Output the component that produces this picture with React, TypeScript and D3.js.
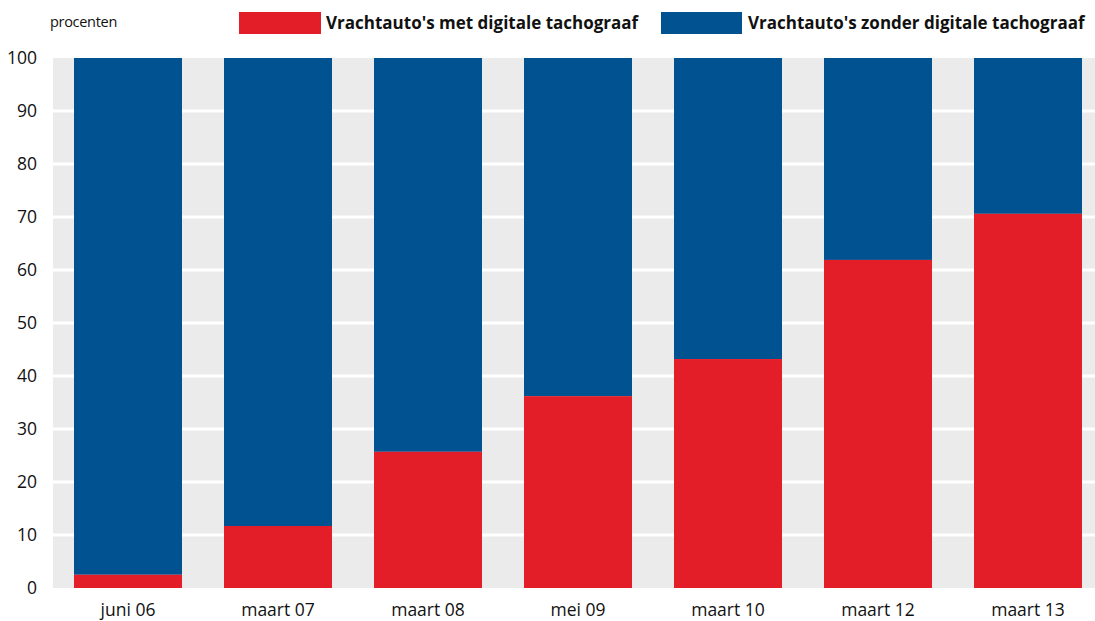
import React from "react";
import * as d3 from "d3";

const categories = ["juni 06", "maart 07", "maart 08", "mei 09", "maart 10", "maart 12", "maart 13"];
const metDigitale = [2.5, 11.7, 25.7, 36.2, 43.2, 61.9, 70.6];
const zonderDigitale = [97.5, 88.3, 74.3, 63.8, 56.8, 38.1, 29.4];
const yTicks = [0, 10, 20, 30, 40, 50, 60, 70, 80, 90, 100];
const seriesNames = ["Vrachtauto's met digitale tachograaf", "Vrachtauto's zonder digitale tachograaf"];
const colors = ["#E31E29", "#005291"];

const W = 1095;
const H = 621;
const plot = { left: 53, right: 1103, top: 58, bottom: 588 };
const FONT = "'Open Sans', 'Noto Sans', sans-serif";

export default function App() {
  const x = d3.scaleBand<string>().domain(categories).range([plot.left, plot.right]).paddingInner(0.28).paddingOuter(0.14);
  const y = d3.scaleLinear().domain([0, 100]).range([plot.bottom, plot.top]);

  return (
    <svg width={W} height={H} style={{ position: "absolute", left: 0, top: 0, background: "#fff" }} fontFamily={FONT}>
      <rect x={plot.left} y={plot.top} width={W - plot.left} height={plot.bottom - plot.top} fill="#EBEBEB" />
      {yTicks.slice(1, -1).map((t) => (
        <line key={t} x1={plot.left} x2={W} y1={y(t)} y2={y(t)} stroke="#fff" strokeWidth={3} />
      ))}
      {yTicks.map((t) => (
        <text key={t} x={37} y={y(t)} dy="0.36em" textAnchor="end" fontSize={17.5} fill="#111">
          {t}
        </text>
      ))}
      {categories.map((c, i) => {
        const m = metDigitale[i];
        const top = m + zonderDigitale[i];
        return (
          <g key={c}>
            <rect x={x(c)} width={x.bandwidth()} y={y(top)} height={y(m) - y(top)} fill={colors[1]} />
            <rect x={x(c)} width={x.bandwidth()} y={y(m)} height={y(0) - y(m)} fill={colors[0]} />
            <text x={(x(c) as number) + x.bandwidth() / 2} y={616} textAnchor="middle" fontSize={17.5} fill="#111">
              {c}
            </text>
          </g>
        );
      })}
      <text x={50} y={27} fontSize={14.5} fill="#111" letterSpacing={-0.3}>procenten</text>
      <rect x={239} y={12} width={82} height={22} fill={colors[0]} />
      <text x={326} y={29} fontSize={17} fontWeight="bold" fill="#111">{seriesNames[0]}</text>
      <rect x={661} y={12} width={81} height={22} fill={colors[1]} />
      <text x={748} y={29} fontSize={17} fontWeight="bold" fill="#111">{seriesNames[1]}</text>
    </svg>
  );
}
